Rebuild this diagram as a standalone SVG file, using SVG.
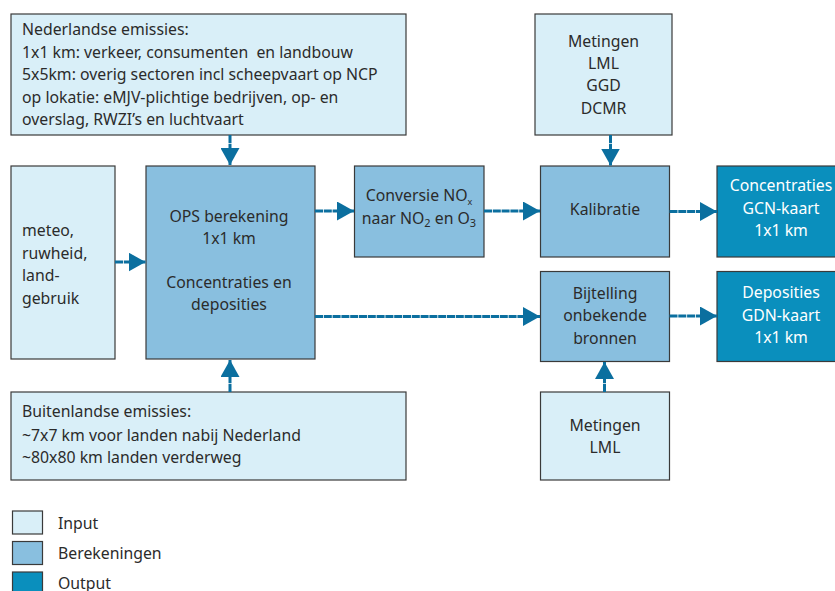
<svg xmlns="http://www.w3.org/2000/svg" width="835" height="591" viewBox="0 0 835 591">
<defs>
<style>
text{font-family:"Noto Sans","Open Sans","Liberation Sans",sans-serif;font-size:15.8px;fill:#2b2b2b}
.in{fill:#d9eff8;stroke:#3a3a3a;stroke-width:1.2}
.calc{fill:#89bfdf;stroke:#3a3a3a;stroke-width:1.2}
.out{fill:#0a8fbd;stroke:#3a3a3a;stroke-width:1.2}
.c{text-anchor:middle}
.w{fill:#ffffff}
.pre{white-space:pre}
.conn line{stroke:#0b6f9f;stroke-width:3;stroke-dasharray:8 0.8;marker-end:url(#ah)}
</style>
<marker id="ah" viewBox="0 0 17 19" refX="17" refY="9.5" markerWidth="17" markerHeight="19" markerUnits="userSpaceOnUse" orient="auto">
<path d="M0,0 L17,9.5 L0,19 Z" fill="#0b6f9f"/>
</marker>
</defs>
<rect width="835" height="591" fill="#ffffff"/>

<g id="nl-emissies">
<rect class="in" x="11" y="14" width="395" height="121"/>
<text x="22" y="35">Nederlandse emissies:</text>
<text class="pre" x="22" y="57.5" xml:space="preserve">1x1 km: verkeer, consumenten  en landbouw</text>
<text x="22" y="80">5x5km: overig sectoren incl scheepvaart op NCP</text>
<text x="22" y="102.5">op lokatie: eMJV-plichtige bedrijven, op- en</text>
<text x="22" y="125">overslag, RWZI’s en luchtvaart</text>
</g>

<g id="metingen-top">
<rect class="in" x="535" y="14" width="137" height="121"/>
<text class="c" x="603.5" y="46.5">Metingen</text>
<text class="c" x="603.5" y="68.5">LML</text>
<text class="c" x="603.5" y="91">GGD</text>
<text class="c" x="603.5" y="113.5">DCMR</text>
</g>

<g id="meteo">
<rect class="in" x="11" y="166" width="104" height="193"/>
<text x="22" y="236">meteo,</text>
<text x="22" y="258.5">ruwheid,</text>
<text x="22" y="281">land-</text>
<text x="22" y="303.5">gebruik</text>
</g>

<g id="ops">
<rect class="calc" x="146" y="166" width="169" height="193"/>
<text class="c" x="229" y="221.5">OPS berekening</text>
<text class="c" x="229" y="243.5">1x1 km</text>
<text class="c" x="229" y="288">Concentraties en</text>
<text class="c" x="229" y="310">deposities</text>
</g>

<g id="conversie">
<rect class="calc" x="354.5" y="166" width="129.5" height="91"/>
<text class="c" x="419" y="200.5">Conversie NO<tspan font-size="9" dy="4">x</tspan></text>
<text class="c" x="419" y="223.5">naar NO<tspan font-size="11" dy="3">2</tspan><tspan dy="-3"> en O</tspan><tspan font-size="11" dy="3">3</tspan></text>
</g>

<g id="kalibratie">
<rect class="calc" x="540.5" y="166" width="129" height="91"/>
<text class="c" x="605" y="215">Kalibratie</text>
</g>

<g id="concentraties">
<rect class="out" x="717" y="166" width="130" height="91"/>
<text class="c w" x="781" y="191">Concentraties</text>
<text class="c w" x="781" y="213.5">GCN-kaart</text>
<text class="c w" x="781" y="236">1x1 km</text>
</g>

<g id="bijtelling">
<rect class="calc" x="540.5" y="271.5" width="129" height="90"/>
<text class="c" x="605" y="298.5">Bijtelling</text>
<text class="c" x="605" y="321">onbekende</text>
<text class="c" x="605" y="343.5">bronnen</text>
</g>

<g id="deposities">
<rect class="out" x="717" y="271.5" width="130" height="90"/>
<text class="c w" x="781" y="298">Deposities</text>
<text class="c w" x="781" y="320.5">GDN-kaart</text>
<text class="c w" x="781" y="343">1x1 km</text>
</g>

<g id="buitenland">
<rect class="in" x="11" y="392" width="395" height="88"/>
<text x="22" y="416.5">Buitenlandse emissies:</text>
<text x="22" y="440.5">~7x7 km voor landen nabij Nederland</text>
<text x="22" y="462.5">~80x80 km landen verderweg</text>
</g>

<g id="metingen-lml">
<rect class="in" x="540.5" y="392" width="129" height="88"/>
<text class="c" x="605" y="430.5">Metingen</text>
<text class="c" x="605" y="453">LML</text>
</g>

<g class="conn" id="connectors">
<line x1="230" y1="135" x2="230" y2="165"/>
<line x1="115" y1="262" x2="145.5" y2="262"/>
<line x1="230" y1="392" x2="230" y2="360"/>
<line x1="315" y1="211" x2="354" y2="211"/>
<line x1="315" y1="316.5" x2="540" y2="316.5"/>
<line x1="484" y1="211" x2="540" y2="211"/>
<line x1="610.5" y1="135" x2="610.5" y2="165.5"/>
<line x1="669.5" y1="211.5" x2="717" y2="211.5"/>
<line x1="669.5" y1="316" x2="717" y2="316"/>
<line x1="604.5" y1="392" x2="604.5" y2="362"/>
</g>

<g id="legend">
<rect class="in" x="12.5" y="511" width="30" height="23"/>
<text x="58" y="529">Input</text>
<rect class="calc" x="12.5" y="541.5" width="30" height="23"/>
<text x="58" y="559">Berekeningen</text>
<rect class="out" x="12.5" y="572" width="30" height="23"/>
<text x="58" y="588.5">Output</text>
</g>
</svg>
